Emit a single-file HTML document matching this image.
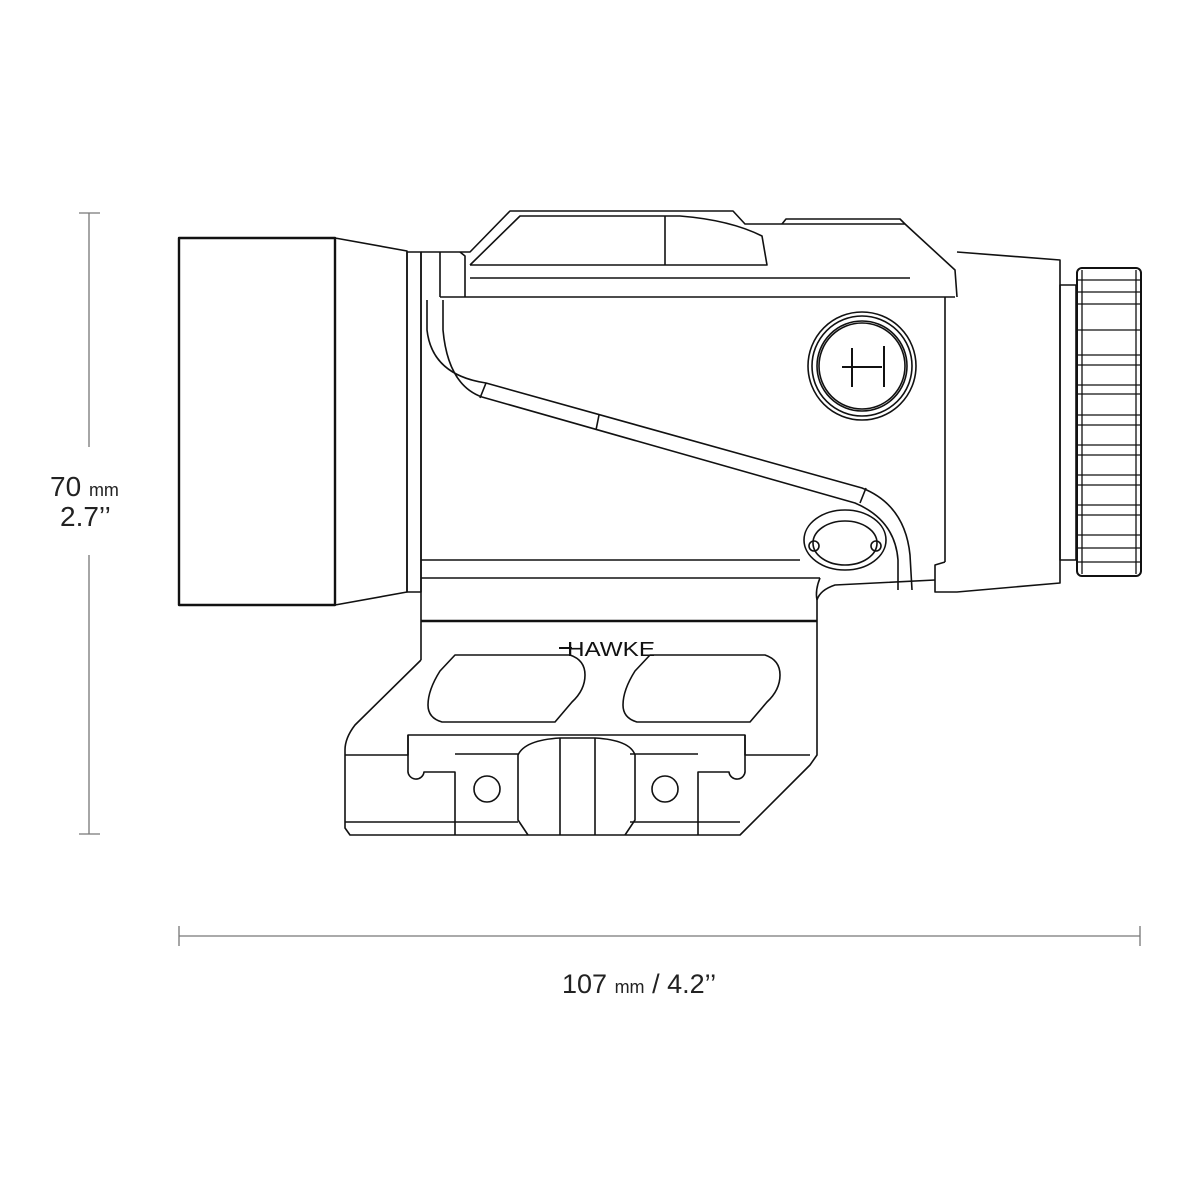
<!DOCTYPE html>
<html><head><style>html,body{margin:0;padding:0;background:#fff}svg{display:block}</style></head>
<body>
<svg width="1200" height="1200" viewBox="0 0 1200 1200" xmlns="http://www.w3.org/2000/svg">
<g fill="none" stroke="#777" stroke-width="1.3">
<line x1="89" y1="213" x2="89" y2="447"/><line x1="89" y1="555" x2="89" y2="834"/>
<line x1="79" y1="213" x2="100" y2="213"/><line x1="79" y1="834" x2="100" y2="834"/>
<line x1="179" y1="936" x2="1140" y2="936"/>
<line x1="179" y1="926" x2="179" y2="946"/><line x1="1140" y1="926" x2="1140" y2="946"/>
</g>
<g font-family="Liberation Sans, sans-serif" fill="#222">
<text x="50" y="496" font-size="28">70 <tspan font-size="18">mm</tspan></text>
<text x="60" y="526" font-size="28">2.7’’</text>
<text x="562" y="993" font-size="27">107 <tspan font-size="18">mm</tspan> / 4.2’’</text>
</g>
<g fill="none" stroke="#111" stroke-width="1.6" stroke-linejoin="round">
<rect x="179" y="238" width="156" height="367" stroke-width="2.4"/>
<path d="M335 238 L407 251 L407 592 L335 605"/>
<rect x="407" y="252" width="14" height="340"/>
<path d="M421 252 L421 660"/>
<path d="M421 252 L470 252 L510 211 L733 211 L745 224 L905 224 L955 270 L957 297"/>
<path d="M440 297 L955 297"/>
<path d="M470 278 L910 278"/>
<path d="M470 265 L767 265 L762 236 Q730 220 680 216 L520 216 L470 265"/>
<line x1="665" y1="216" x2="665" y2="265"/>
<path d="M782 224 L786 219 L900 219 L905 224"/>
<path d="M440 252 L440 297 M460 252 L465 256 L465 297"/>
<line x1="945" y1="297" x2="945" y2="562"/>
<line x1="421" y1="560" x2="800" y2="560"/>
<line x1="421" y1="578" x2="820" y2="578"/>
<line x1="421" y1="621" x2="817" y2="621" stroke-width="2.6"/>
<path d="M427 300 L427 330 Q432 375 486 383 L862 488 Q905 505 910 555 L912 590"/>
<path d="M443 300 L443 330 Q448 385 482 397 L855 503 Q895 520 898 560 L898 590"/>
<line x1="486" y1="383" x2="480" y2="398"/><line x1="599" y1="415" x2="596" y2="430"/><line x1="866" y1="488" x2="860" y2="503"/>
<path d="M957 252 L1060 260 L1060 583 L957 592 L935 592 L935 565 L945 562"/>
<rect x="1060" y="285" width="16" height="275"/>
<rect x="1077" y="268" width="64" height="308" rx="5" stroke-width="2"/>
<g stroke-width="1.3">
<line x1="1077" y1="280" x2="1141" y2="280"/><line x1="1077" y1="292" x2="1141" y2="292"/>
<line x1="1077" y1="304" x2="1141" y2="304"/><line x1="1077" y1="330" x2="1141" y2="330"/>
<line x1="1077" y1="355" x2="1141" y2="355"/><line x1="1077" y1="365" x2="1141" y2="365"/>
<line x1="1077" y1="385" x2="1141" y2="385"/><line x1="1077" y1="394" x2="1141" y2="394"/>
<line x1="1077" y1="415" x2="1141" y2="415"/><line x1="1077" y1="425" x2="1141" y2="425"/>
<line x1="1077" y1="445" x2="1141" y2="445"/><line x1="1077" y1="455" x2="1141" y2="455"/>
<line x1="1077" y1="475" x2="1141" y2="475"/><line x1="1077" y1="485" x2="1141" y2="485"/>
<line x1="1077" y1="505" x2="1141" y2="505"/><line x1="1077" y1="515" x2="1141" y2="515"/>
<line x1="1077" y1="535" x2="1141" y2="535"/><line x1="1077" y1="548" x2="1141" y2="548"/>
<line x1="1077" y1="562" x2="1141" y2="562"/>
<line x1="1082" y1="270" x2="1082" y2="574"/><line x1="1136" y1="270" x2="1136" y2="574"/>
</g>
<circle cx="862" cy="366" r="54"/><circle cx="862" cy="366" r="50"/><circle cx="862" cy="366" r="45"/><circle cx="862" cy="366" r="43"/>
<path d="M842 367 L882 367 M852 348 L852 387 M884 346 L884 387" stroke-width="2"/>
<ellipse cx="845" cy="540" rx="41" ry="30"/><ellipse cx="845" cy="543" rx="32" ry="22"/>
<circle cx="814" cy="546" r="5"/><circle cx="876" cy="546" r="5"/>
<path d="M421 660 L355 725 Q345 738 345 750 L345 828 L350 835 L740 835 L810 765 L817 755 L817 600 Q820 590 835 585 L935 580"/>
<path d="M820 578 Q815 590 817 600"/>
<path d="M440 671 L455 655 L570 655 Q585 660 585 675 Q585 690 572 702 L555 722 L442 722 Q428 718 428 705 Q428 690 440 671Z"/>
<path d="M635 671 L650 655 L765 655 Q780 660 780 675 Q780 690 767 702 L750 722 L637 722 Q623 718 623 705 Q623 690 635 671Z"/>
<path d="M345 755 L408 755 L408 735 L745 735 L745 755 L810 755"/>
<path d="M408 735 L408 770 A8 8 0 0 0 424 772 L455 772 L455 835"/>
<path d="M745 735 L745 770 A8 8 0 0 1 729 772 L698 772 L698 835"/>
<path d="M455 754 L518 754 M630 754 L698 754"/>
<path d="M345 822 L518 822 M630 822 L740 822"/>
<path d="M528 835 L518 820 L518 755 Q525 740 560 738 L595 738 Q630 740 635 755 L635 820 L625 835"/>
<line x1="560" y1="738" x2="560" y2="835"/><line x1="595" y1="738" x2="595" y2="835"/>
<circle cx="487" cy="789" r="13"/><circle cx="665" cy="789" r="13"/>
</g>
<text x="567" y="656" font-family="Liberation Sans, sans-serif" font-size="20" fill="#111" textLength="88" lengthAdjust="spacingAndGlyphs">HAWKE</text>
<line x1="559" y1="648" x2="572" y2="648" stroke="#111" stroke-width="2"/>
</svg>
</body></html>
